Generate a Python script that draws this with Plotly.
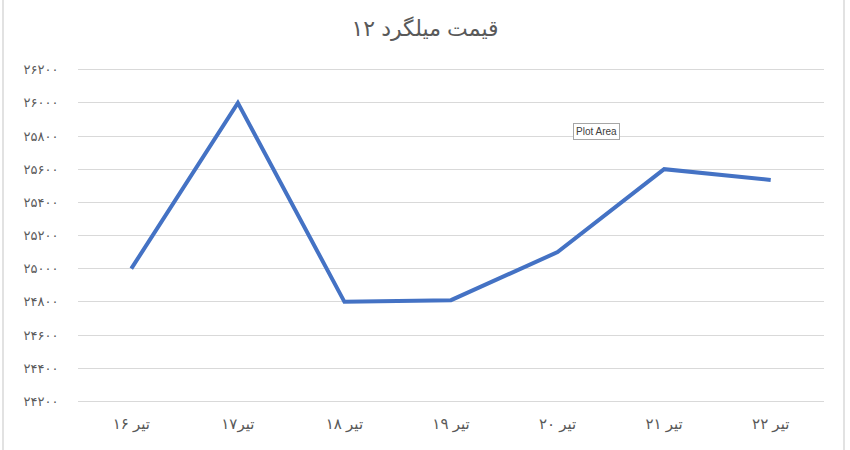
import plotly.graph_objects as go

categories = ["تیر ۱۶", "تیر۱۷", "تیر ۱۸", "تیر ۱۹", "تیر ۲۰", "تیر ۲۱", "تیر ۲۲"]
prices = [25000, 26000, 24800, 24810, 25100, 25600, 25535]
y_ticks = [24200, 24400, 24600, 24800, 25000, 25200, 25400, 25600, 25800, 26000, 26200]

def fa_digits(n):
    return str(n).translate(str.maketrans("0123456789", "۰۱۲۳۴۵۶۷۸۹"))

y_ticktext = [fa_digits(v) for v in y_ticks]
title_text = "قیمت میلگرد ۱۲"

fig = go.Figure()
fig.add_trace(go.Scatter(
    x=categories, y=prices, mode="lines",
    line=dict(color="#4472C4", width=4),
    hoverinfo="skip",
))

W, H = 850, 450
# plot area in pixels: x 78..824, y 70 (26200) .. 401 (24200)
pad = 10  # data units of padding so edge gridlines are drawn
upp = 2000 / 331.0
pad_px = pad / upp
L, R = 78, 26
T, B = 70 - pad_px, 49 - pad_px
pw, ph = W - L - R, H - T - B

def px_x(p):
    return (p - L) / pw

def px_y(p):
    return (H - B - p) / ph

fig.update_layout(
    width=W, height=H,
    margin=dict(l=L, r=R, t=T, b=B, pad=0),
    paper_bgcolor="white", plot_bgcolor="white",
    showlegend=False,
    font=dict(family="Arial, DejaVu Sans, sans-serif", color="#595959"),
    title=dict(text=title_text, x=0.5, xanchor="center", y=1 - 28 / H, yanchor="middle",
               font=dict(size=22, color="#595959")),
    xaxis=dict(
        type="category", showgrid=False, zeroline=False,
        showline=False, ticks="outside", ticklen=7, tickcolor="rgba(0,0,0,0)",
        tickfont=dict(size=15, color="#595959"),
        range=[-0.5, 6.5],
    ),
    yaxis=dict(
        range=[24200 - pad, 26200 + pad], tickvals=y_ticks, ticktext=y_ticktext,
        showgrid=True, gridcolor="#D9D9D9", gridwidth=1, zeroline=False,
        showline=False, ticks="outside", ticklen=16, tickcolor="rgba(0,0,0,0)",
        tickfont=dict(size=13, color="#595959"),
    ),
    shapes=[
        dict(type="line", xref="paper", yref="paper", x0=px_x(3), x1=px_x(3),
             y0=px_y(0), y1=px_y(450), line=dict(color="#D9D9D9", width=1.5)),
        dict(type="line", xref="paper", yref="paper", x0=px_x(844), x1=px_x(844),
             y0=px_y(0), y1=px_y(450), line=dict(color="#D9D9D9", width=1.5)),
    ],
    annotations=[
        dict(text="Plot Area", xref="paper", yref="paper", x=px_x(596), y=px_y(132),
             xanchor="center", yanchor="middle", showarrow=False,
             font=dict(size=10, color="#404040"), bgcolor="white",
             bordercolor="#A6A6A6", borderwidth=1, borderpad=2),
    ],
)

fig.write_html("out.html", config={"displayModeBar": False},
               post_script="document.body.style.margin='0';document.body.style.overflow='hidden';")
